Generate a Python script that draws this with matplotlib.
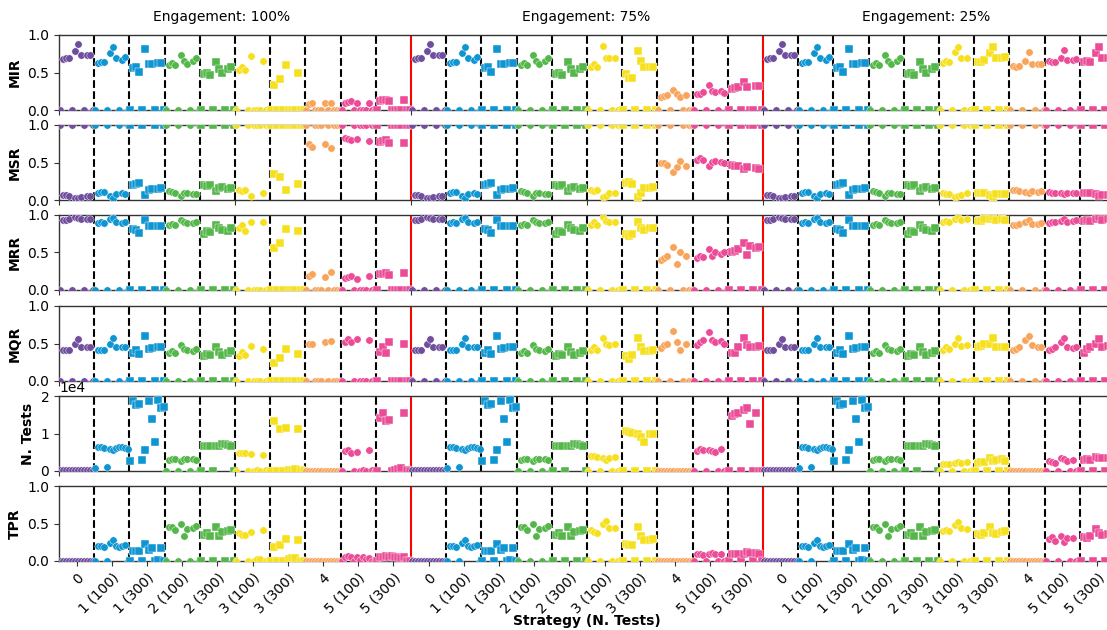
import numpy as np
import matplotlib
matplotlib.use("Agg")
import matplotlib.pyplot as plt

STRATEGIES = ['0', '1 (100)', '1 (300)', '2 (100)', '2 (300)',
              '3 (100)', '3 (300)', '4', '5 (100)', '5 (300)']
ENGAGEMENTS = ['100%', '75%', '25%']
METRICS = ['MIR', 'MSR', 'MRR', 'MQR', 'N. Tests', 'TPR']

STRAT_COLORS = ['#6f4e9e', '#0f96d2', '#0f96d2', '#53b749', '#53b749',
                '#f6e01e', '#f6e01e', '#f8a45a', '#ec4c97', '#ec4c97']
STRAT_MARKERS = ['o', 'o', 's', 'o', 's', 'o', 's', 'o', 'o', 's']

# --- values, 12 runs per strategy (strategies 0..2 are the same for every engagement) ---
mir_shared = [
    [0, .68, .69, .69, 0, .79, .88, .73, 0, .74, .74, 0],
    [0, .63, .64, .64, 0, .76, .84, .70, 0, .67, .71, 0],
    [0, .56, .58, .51, 0, .82, .62, .62, 0, .63, .63, 0],
    [0, .60, .63, .60, 0, .74, .66, .62, 0, .66, .69, 0],
    [0, .48, .50, .47, 0, .64, .55, .50, 0, .55, .58, 0],
]
mir_100 = [
    [0, .53, .58, .54, 0, .72, 0, 0, 0, .66, 0, 0],
    [0, .33, 0, .42, 0, .60, 0, 0, 0, .50, 0, 0],
    [0, .08, .10, 0, 0, 0, .09, 0, .10, 0, 0, 0],
    [0, .10, .11, .12, 0, .09, 0, 0, 0, .10, 0, 0],
    [0, .12, .13, .14, .12, 0, 0, 0, 0, .14, 0, 0],
]
mir_75 = [
    [0, .58, .62, .58, 0, .85, .70, .69, 0, .69, 0, 0],
    [0, .48, .43, .43, 0, .79, .65, .57, 0, .57, .57, 0],
    [0, .18, .19, .20, 0, .27, .22, .18, 0, .20, 0, 0],
    [0, .21, .22, .24, 0, .33, .26, .24, 0, .25, .23, 0],
    [0, .28, .30, .31, 0, .38, .31, 0, 0, .32, .32, 0],
]
mir_25 = [
    [0, .63, .66, .64, 0, .78, .84, .70, 0, .70, 0, 0],
    [0, .64, .64, .67, 0, .76, .84, .70, 0, .70, .71, 0],
    [0, .59, .58, .59, 0, .66, .77, .62, 0, .62, .62, 0],
    [0, .65, .64, .64, 0, .70, .80, .67, 0, .67, .68, 0],
    [0, .64, .66, .64, 0, .76, .84, .70, 0, .69, .70, 0],
]

msr_shared = [
    [1, .07, .07, .06, 1, .03, .03, .04, 1, .05, .05, 1],
    [1, .10, .11, .11, 1, .06, .03, .08, 1, .09, .08, 1],
    [1, .20, .21, .23, 1, .07, .14, .15, 1, .15, .16, 1],
    [1, .12, .11, .10, 1, .06, .09, .10, 1, .08, .08, 1],
    [1, .20, .19, .20, 1, .12, .16, .18, 1, .15, .16, 1],
]
msr_100 = [
    [1, .14, .12, .14, 1, .06, 1, 1, 1, .09, 1, 1],
    [1, .35, 1, .31, 1, .14, 1, 1, 1, .21, 1, 1],
    [1, .75, .71, 1, 1, 1, .75, 1, .70, 1, 1, 1],
    [1, .83, .82, .80, 1, .81, 1, 1, 1, .79, 1, 1],
    [1, .78, .79, .80, .76, 1, 1, 1, 1, .76, 1, 1],
]
msr_75 = [
    [1, .13, .12, .13, 1, .04, .06, .09, 1, .09, 1, 1],
    [1, .23, .24, .22, 1, .04, .10, .16, 1, .16, .17, 1],
    [1, .50, .49, .47, 1, .38, .44, .52, 1, .45, 1, 1],
    [1, .54, .56, .53, 1, .45, .51, .52, 1, .51, .50, 1],
    [1, .47, .46, .45, 1, .42, .44, 1, 1, .43, .42, 1],
]
msr_25 = [
    [1, .09, .08, .08, 1, .04, .05, .07, 1, .09, 1, 1],
    [1, .10, .09, .09, 1, .07, .04, .08, 1, .08, .08, 1],
    [1, .13, .13, .12, 1, .11, .10, .12, 1, .11, .12, 1],
    [1, .11, .10, .10, 1, .09, .08, .09, 1, .10, .09, 1],
    [1, .10, .10, .09, 1, .08, .06, .07, 1, .07, .06, 1],
]

mrr_shared = [
    [0, .93, .93, .94, 0, .97, .96, .95, 0, .95, .95, 0],
    [0, .89, .90, .89, 0, .95, .96, .91, 0, .89, .91, 0],
    [0, .81, .80, .76, 0, .93, .85, .85, 0, .85, .85, 0],
    [0, .87, .88, .87, 0, .93, .90, .89, 0, .89, .91, 0],
    [0, .75, .78, .77, 0, .86, .83, .80, 0, .78, .82, 0],
]
mrr_100 = [
    [0, .82, .86, .78, 0, .91, 0, 0, 0, .90, 0, 0],
    [0, .56, 0, .63, 0, .81, 0, 0, 0, .78, 0, 0],
    [0, .18, .21, 0, 0, 0, .17, 0, .24, 0, 0, 0],
    [0, .16, .17, .19, 0, .15, 0, 0, 0, .19, 0, 0],
    [0, .21, .21, .22, .20, 0, 0, 0, 0, .22, 0, 0],
]
mrr_75 = [
    [0, .87, .90, .87, 0, .97, .92, .90, 0, .90, 0, 0],
    [0, .75, .72, .74, 0, .90, .82, .80, 0, .82, .82, 0],
    [0, .40, .43, .45, 0, .57, .35, .50, 0, .45, 0, 0],
    [0, .42, .45, .44, 0, .55, .45, .50, 0, .48, .50, 0],
    [0, .50, .52, .54, 0, .62, .46, .58, 0, .56, .57, 0],
]
mrr_25 = [
    [0, .90, .92, .91, 0, .95, .97, .93, 0, .94, 0, 0],
    [0, .92, .92, .94, 0, .95, .97, .93, 0, .94, .93, 0],
    [0, .87, .87, .88, 0, .90, .93, .88, 0, .88, .89, 0],
    [0, .89, .90, .90, 0, .92, .95, .91, 0, .92, .93, 0],
    [0, .92, .93, .92, 0, .95, .97, .93, 0, .94, .93, 0],
]

mqr_shared = [
    [0, .41, .41, .42, 0, .49, .56, .45, 0, .45, .45, 0],
    [0, .41, .41, .42, 0, .49, .57, .45, 0, .45, .46, 0],
    [0, .38, .41, .36, 0, .60, .43, .44, 0, .45, .45, 0],
    [0, .38, .40, .37, 0, .48, .43, .41, 0, .40, .43, 0],
    [0, .34, .36, .35, 0, .46, .39, .35, 0, .38, .40, 0],
]
mqr_100 = [
    [0, .34, .39, .35, 0, .47, 0, 0, 0, .43, 0, 0],
    [0, .24, 0, .31, 0, .43, 0, 0, 0, .36, 0, 0],
    [0, .49, .50, 0, 0, 0, .52, 0, .53, 0, 0, 0],
    [0, .52, .56, .52, 0, .56, 0, 0, 0, .55, 0, 0],
    [0, .39, .45, .38, .52, 0, 0, 0, 0, .49, 0, 0],
]
mqr_75 = [
    [0, .42, .45, .42, 0, .57, .50, .48, 0, .49, 0, 0],
    [0, .33, .30, .35, 0, .58, .45, .40, 0, .40, .41, 0],
    [0, .44, .48, .50, 0, .67, .52, .42, 0, .50, 0, 0],
    [0, .48, .52, .55, 0, .65, .55, .52, 0, .54, .50, 0],
    [0, .38, .38, .45, 0, .58, .48, .45, 0, .46, .47, 0],
]
mqr_25 = [
    [0, .42, .45, .43, 0, .50, .57, .47, 0, .48, 0, 0],
    [0, .45, .47, .50, 0, .50, .57, .45, 0, .45, .46, 0],
    [0, .42, .43, .45, 0, .55, .60, .48, 0, .45, .46, 0],
    [0, .42, .43, .45, 0, .52, .58, .45, 0, .44, .45, 0],
    [0, .38, .43, .45, 0, .50, .56, .46, 0, .47, .46, 0],
]

ntests_shared = [
    [150, 150, 150, 150, 150, 150, 150, 150, 150, 150, 150, 150],
    [900, 6300, 6300, 6200, 1100, 6000, 5500, 6200, 6400, 6500, 6100, 5900],
    [2800, 18800, 17500, 18000, 3000, 5700, 18800, 14000, 7800, 19000, 16800, 17000],
    [100, 3000, 3100, 3200, 100, 2700, 3200, 3200, 100, 3100, 2900, 100],
    [100, 6800, 6700, 6700, 100, 6600, 6700, 7300, 7200, 6900, 6800, 100],
]
ntests_100 = [
    [0, 4700, 4700, 4700, 0, 4600, 0, 300, 100, 4200, 200, 0],
    [0, 13300, 0, 11200, 0, 11600, 300, 300, 500, 11300, 300, 0],
    [100, 100, 100, 100, 100, 100, 100, 100, 100, 100, 100, 100],
    [0, 5300, 5500, 4900, 0, 5100, 0, 400, 0, 5700, 300, 0],
    [0, 14200, 15600, 13400, 13600, 0, 300, 500, 700, 15600, 300, 0],
]
ntests_75 = [
    [0, 4000, 3900, 3800, 0, 3600, 2900, 3500, 0, 3800, 0, 0],
    [0, 10600, 10400, 10200, 0, 9900, 9200, 7700, 0, 9900, 9800, 0],
    [100, 100, 100, 100, 100, 100, 100, 100, 100, 100, 100, 100],
    [0, 5400, 5800, 5600, 0, 5600, 5400, 5000, 0, 5800, 0, 0],
    [0, 14600, 15300, 15500, 0, 16200, 16700, 12600, 0, 15600, 0, 0],
]
ntests_25 = [
    [0, 2000, 1800, 1900, 0, 2200, 2400, 2200, 0, 2300, 0, 0],
    [0, 2200, 2300, 2500, 0, 3400, 2700, 3000, 0, 3100, 2800, 0],
    [100, 100, 100, 100, 100, 100, 100, 100, 100, 100, 100, 100],
    [0, 2700, 2500, 2200, 0, 3400, 3200, 2800, 0, 2900, 0, 0],
    [0, 2900, 3200, 3000, 0, 3800, 3600, 3500, 0, 3400, 3600, 0],
]

tpr_shared = [
    [0, 0, 0, 0, 0, 0, 0, 0, 0, 0, 0, 0],
    [0, .20, .20, .19, 0, .24, .28, .20, .19, .20, .22, 0],
    [0, .13, .14, .13, 0, .23, .15, .17, 0, .02, .17, 0],
    [0, .45, .46, .42, 0, .50, .33, .43, 0, .44, .47, 0],
    [0, .35, .37, .33, 0, .45, .33, .39, 0, .40, .41, 0],
]
tpr_100 = [
    [0, .37, .35, .35, 0, .39, 0, .03, .03, .42, 0, 0],
    [0, .19, 0, .21, 0, .30, .03, .04, .04, .28, 0, 0],
    [0, 0, 0, 0, 0, 0, 0, 0, 0, 0, 0, 0],
    [0, .05, .07, .06, 0, .06, .02, .05, .03, .04, 0, 0],
    [0, .06, .06, .07, .06, .07, .05, .06, .04, .06, 0, 0],
]
tpr_75 = [
    [0, .41, .39, .38, 0, .50, .54, .44, 0, .44, 0, 0],
    [0, .23, .22, .22, 0, .45, .34, .28, 0, .28, .29, 0],
    [0, 0, 0, 0, 0, 0, 0, 0, 0, 0, 0, 0],
    [0, .10, .09, .08, 0, .10, .11, .10, 0, .10, 0, 0],
    [0, .10, .10, .10, 0, .10, .12, .11, 0, .11, .10, 0],
]
tpr_25 = [
    [0, .40, .41, .40, 0, .48, .52, .44, 0, .43, 0, 0],
    [0, .36, .35, .37, 0, .45, .38, .36, 0, .39, .40, 0],
    [0, 0, 0, 0, 0, 0, 0, 0, 0, 0, 0, 0],
    [0, .30, .32, .27, 0, .34, .25, .31, 0, .31, 0, 0],
    [0, .32, .31, .33, 0, .43, .38, .35, 0, .36, .37, 0],
]

data = {
    'MIR': mir_shared + mir_100 + mir_shared + mir_75 + mir_shared + mir_25,
    'MSR': msr_shared + msr_100 + msr_shared + msr_75 + msr_shared + msr_25,
    'MRR': mrr_shared + mrr_100 + mrr_shared + mrr_75 + mrr_shared + mrr_25,
    'MQR': mqr_shared + mqr_100 + mqr_shared + mqr_75 + mqr_shared + mqr_25,
    'N. Tests': ntests_shared + ntests_100 + ntests_shared + ntests_75 + ntests_shared + ntests_25,
    'TPR': tpr_shared + tpr_100 + tpr_shared + tpr_75 + tpr_shared + tpr_25,
}

# --- layout ---
W, H = 1107, 630
fig = plt.figure(figsize=(W / 100, H / 100), dpi=100)
left_px, right_px = 59, 1115
row_tops = [35, 125, 215, 306, 396, 486]
row_h = 75
slot_offsets = np.linspace(0.03, 0.97, 12)
n_cat = len(STRATEGIES) * len(ENGAGEMENTS)

axes = []
for r, metric in enumerate(METRICS):
    ax = fig.add_axes([left_px / W, 1 - (row_tops[r] + row_h) / H,
                       (right_px - left_px) / W, row_h / H])
    axes.append(ax)
    for c in range(n_cat):
        s = c % len(STRATEGIES)
        xs = c + slot_offsets
        ys = data[metric][c]
        size = 34 if STRAT_MARKERS[s] == 's' else 28
        ax.scatter(xs, ys, s=size, marker=STRAT_MARKERS[s], color=STRAT_COLORS[s],
                   edgecolors='white', linewidths=0.3, zorder=3)
    for b in range(1, n_cat):
        if b % len(STRATEGIES) == 0:
            ax.axvline(b, color='red', lw=1.5, zorder=2)
        else:
            ax.axvline(b, color='black', lw=1.5, ls='--', zorder=2)
    ax.set_xlim(0, n_cat)
    if metric == 'N. Tests':
        ax.set_ylim(0, 20000)
        ax.set_yticks([0, 10000, 20000])
        ax.ticklabel_format(axis='y', style='sci', scilimits=(0, 0))
        ax.yaxis.get_offset_text().set_fontsize(10)
    else:
        ax.set_ylim(0, 1)
        ax.set_yticks([0, 0.5, 1.0])
        ax.set_yticklabels(['0.0', '0.5', '1.0'])
    ax.set_ylabel(metric, fontsize=10, fontweight='bold')
    ax.tick_params(axis='both', labelsize=10, color='#333333')
    for sp in ax.spines.values():
        sp.set_color('#333333')
        sp.set_linewidth(1.0)
    if r < len(METRICS) - 1:
        ax.set_xticks(np.arange(0, n_cat + 1, 5))
        ax.tick_params(axis='x', labelbottom=False)
    else:
        ax.set_xticks(np.arange(n_cat) + 0.5)
        ax.set_xticklabels(STRATEGIES * len(ENGAGEMENTS), rotation=45,
                           ha='right', rotation_mode='anchor')
        ax.set_xlabel('Strategy (N. Tests)', fontsize=10, fontweight='bold', va='center')
        ax.xaxis.set_label_coords(0.5, -(620 - 560) / row_h)

title_x = [4.63, 14.97, 24.63]
for tx, eng in zip(title_x, ENGAGEMENTS):
    axes[0].text(tx, 1.24, f'Engagement: {eng}', transform=axes[0].get_xaxis_transform(),
                 ha='center', va='center', fontsize=10)

fig.savefig('out.png', dpi=100)
